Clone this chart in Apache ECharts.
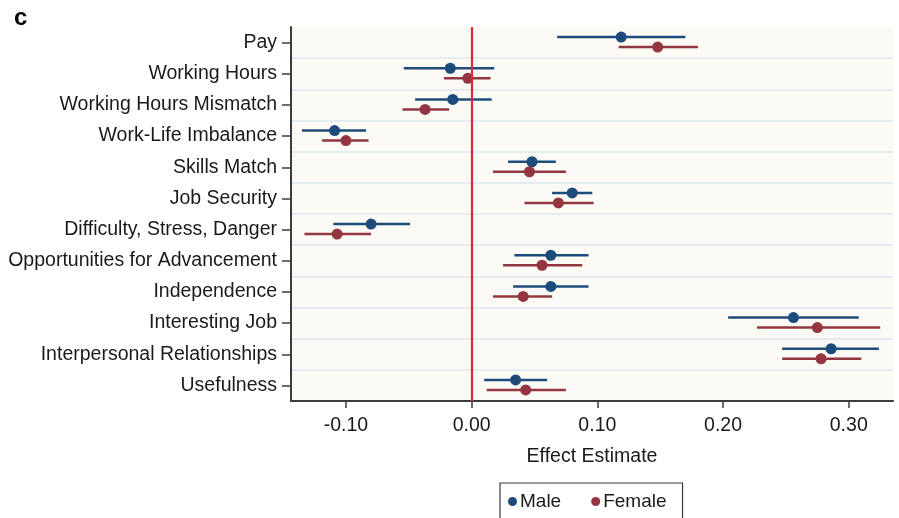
<!DOCTYPE html>
<html>
<head>
<meta charset="utf-8">
<script src="https://cdn.jsdelivr.net/npm/echarts@6/dist/echarts.min.js"></script>
<style>
  html, body { margin: 0; padding: 0; background: #ffffff; }
  #chart { width: 899px; height: 518px; }
</style>
</head>
<body>
<div id="chart"></div>
<script>
// Job attributes (top to bottom)
const categories = [
  'Pay', 'Working Hours', 'Working Hours Mismatch', 'Work-Life Imbalance',
  'Skills Match', 'Job Security', 'Difficulty, Stress, Danger',
  'Opportunities for Advancement', 'Independence', 'Interesting Job',
  'Interpersonal Relationships', 'Usefulness'
];

// Male: point estimate and confidence bounds
const maleEst = [0.119, -0.017, -0.015, -0.109, 0.048, 0.080, -0.080, 0.063, 0.063, 0.256, 0.286, 0.035];
const maleLo  = [0.068, -0.054, -0.045, -0.135, 0.029, 0.064, -0.110, 0.034, 0.033, 0.204, 0.247, 0.010];
const maleHi  = [0.170,  0.018,  0.016, -0.084, 0.067, 0.096, -0.049, 0.093, 0.093, 0.308, 0.324, 0.060];

// Female: point estimate and confidence bounds
const femaleEst = [0.148, -0.003, -0.037, -0.100, 0.046, 0.069, -0.107, 0.056, 0.041, 0.275, 0.278, 0.043];
const femaleLo  = [0.117, -0.022, -0.055, -0.119, 0.017, 0.042, -0.133, 0.025, 0.017, 0.227, 0.247, 0.012];
const femaleHi  = [0.180,  0.015, -0.018, -0.082, 0.075, 0.097, -0.080, 0.088, 0.064, 0.325, 0.310, 0.075];

const xTicks = [-0.1, 0, 0.1, 0.2, 0.3];

const MALE = '#1d4c7c';
const FEMALE = '#933641';
const FONT = '"Liberation Sans", Arial, sans-serif';
const TEXT = '#1a1a1a';
const AXIS = '#3c3c3c';
const FS = 19.5;

const OFF_M = -5.5;
const OFF_F = 4.5;

function ciSeries(name, lo, hi, color, off) {
  return {
    name: name,
    type: 'custom',
    silent: true,
    z: 3,
    data: lo.map((l, i) => [l, hi[i], i]),
    encode: { x: [0, 1], y: 2 },
    renderItem: function (params, api) {
      const a = api.coord([api.value(0), api.value(2)]);
      const b = api.coord([api.value(1), api.value(2)]);
      return {
        type: 'line',
        shape: { x1: a[0], y1: a[1] + off, x2: b[0], y2: b[1] + off },
        style: { stroke: color, lineWidth: 2.5 }
      };
    }
  };
}

const chart = echarts.init(document.getElementById('chart'), null, { renderer: 'canvas' });

chart.setOption({
  animation: false,
  backgroundColor: '#ffffff',
  textStyle: { fontFamily: FONT, color: TEXT },
  title: {
    text: 'c',
    left: 9,
    top: 1,
    textStyle: { fontFamily: FONT, fontWeight: 'bold', fontSize: 24, color: '#000' }
  },
  grid: {
    left: 291, top: 27, right: 6, bottom: 117,
    show: true, backgroundColor: '#fbfaf4', borderWidth: 0
  },
  legend: {
    data: ['Male', 'Female'],
    left: 500, top: 483,
    orient: 'horizontal',
    icon: 'circle',
    itemWidth: 9, itemHeight: 9,
    itemGap: 30,
    padding: [9, 16, 30, 8],
    borderColor: '#3a3a3a', borderWidth: 1.2,
    textStyle: { fontFamily: FONT, fontSize: 19, color: TEXT, padding: [0, 0, 0, -2] }
  },
  xAxis: {
    type: 'value',
    min: -0.1437,
    max: 0.3352,
    name: 'Effect Estimate',
    nameLocation: 'middle',
    nameGap: 46,
    nameTextStyle: { fontFamily: FONT, fontSize: FS, color: TEXT },
    axisLine: { show: true, onZero: false, lineStyle: { color: AXIS, width: 2 } },
    axisTick: { show: true, customValues: xTicks, length: 7, lineStyle: { color: AXIS, width: 1.5 } },
    axisLabel: {
      customValues: xTicks,
      margin: 15,
      fontFamily: FONT, fontSize: FS, color: TEXT,
      formatter: v => v.toFixed(2)
    },
    splitLine: { show: false }
  },
  yAxis: {
    type: 'category',
    data: categories,
    inverse: true,
    boundaryGap: true,
    axisLine: { show: true, onZero: false, lineStyle: { color: AXIS, width: 2 } },
    axisTick: { show: true, alignWithLabel: true, length: 9, lineStyle: { color: AXIS, width: 1.5 } },
    axisLabel: { margin: 14, fontFamily: FONT, fontSize: FS, color: TEXT },
    splitLine: {
      show: true, showMinLine: false, showMaxLine: false,
      lineStyle: { color: '#e2ebf1', width: 2 }
    }
  },
  series: [
    ciSeries('Male CI', maleLo, maleHi, MALE, OFF_M),
    ciSeries('Female CI', femaleLo, femaleHi, FEMALE, OFF_F),
    {
      name: 'Male',
      type: 'scatter',
      z: 4,
      symbol: 'circle',
      symbolSize: 11,
      symbolOffset: [0, OFF_M],
      itemStyle: { color: MALE, opacity: 1 },
      data: maleEst.map((v, i) => [v, i]),
      markLine: {
        silent: true,
        symbol: ['none', 'none'],
        label: { show: false },
        lineStyle: { color: '#d42a3c', width: 2.2, type: 'solid' },
        data: [{ xAxis: 0 }]
      }
    },
    {
      name: 'Female',
      type: 'scatter',
      z: 4,
      symbol: 'circle',
      symbolSize: 11,
      symbolOffset: [0, OFF_F],
      itemStyle: { color: FEMALE, opacity: 1 },
      data: femaleEst.map((v, i) => [v, i])
    }
  ]
});
</script>
</body>
</html>
